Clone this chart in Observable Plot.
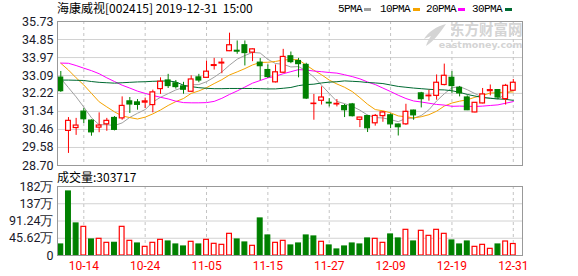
<!DOCTYPE html>
<html><head><meta charset="utf-8">
<script src="https://cdn.jsdelivr.net/npm/d3@7"></script>
<script src="https://cdn.jsdelivr.net/npm/@observablehq/plot@0.6"></script>
<style>
body{margin:0;background:#fff;}
#wrap{position:relative;width:578px;height:276px;overflow:hidden;font-family:"Noto Sans CJK SC","Noto Sans",sans-serif;color:#000;}
#wrap svg{position:absolute;left:0;}
.t{position:absolute;font-size:12px;line-height:14px;white-space:pre;}
.lg{position:absolute;font-family:"Liberation Mono",monospace;font-size:11px;letter-spacing:-0.6px;line-height:14px;white-space:pre;}
.sw{position:absolute;width:7px;height:3px;}
</style></head><body><div id="wrap"></div>
<script>
const dates = ["10-09","10-10","10-11","10-14","10-15","10-16","10-17","10-18","10-21","10-22","10-23","10-24","10-25","10-28","10-29","10-30","10-31","11-01","11-04","11-05","11-06","11-07","11-08","11-11","11-12","11-13","11-14","11-15","11-18","11-19","11-20","11-21","11-22","11-25","11-26","11-27","11-28","11-29","12-02","12-03","12-04","12-05","12-06","12-09","12-10","12-11","12-12","12-13","12-16","12-17","12-18","12-19","12-20","12-23","12-24","12-25","12-26","12-27","12-30","12-31"];
const open  = [32.99,30.39,30.53,31.33,30.89,30.55,30.71,31.02,31.00,31.83,31.78,31.77,31.65,32.43,32.85,32.71,32.56,32.30,33.00,32.98,33.56,33.68,34.28,34.30,34.57,34.21,33.72,33.36,32.76,33.23,34.03,33.80,33.61,31.70,31.86,31.76,31.68,31.60,31.68,30.93,31.11,30.76,31.11,31.15,30.70,30.71,31.38,32.22,32.08,32.10,32.63,32.98,32.49,32.02,31.29,31.73,32.33,32.38,31.94,32.35];
const high  = [33.29,31.04,31.00,31.48,30.93,31.27,31.00,31.09,32.05,32.02,31.92,31.99,32.38,32.98,33.15,32.85,32.76,33.08,33.15,33.80,33.93,33.92,35.16,34.78,34.78,34.39,33.92,33.61,33.61,34.37,34.24,33.93,33.69,32.17,32.54,31.97,31.92,31.68,31.73,31.05,31.15,31.19,31.33,31.22,30.72,31.69,31.40,32.27,32.38,33.12,33.65,33.28,32.56,32.10,31.77,32.46,32.63,32.41,32.66,32.90];
const low   = [32.27,29.29,30.17,30.75,30.13,30.30,30.37,30.39,30.91,31.24,31.40,31.48,31.27,32.17,32.46,32.43,32.18,32.27,32.74,32.95,33.36,33.18,34.26,34.13,33.56,33.77,32.84,32.95,32.73,33.20,33.67,32.98,31.92,30.91,31.65,31.56,31.56,31.04,31.07,30.55,30.31,30.62,30.81,30.50,30.14,30.66,30.91,31.51,31.84,31.89,32.59,32.22,32.05,31.38,31.27,31.71,32.10,31.92,31.65,32.33];
const close = [32.33,30.88,30.65,30.96,30.32,30.65,30.88,30.44,31.61,31.68,31.66,31.83,32.27,32.79,32.58,32.53,32.40,32.90,32.85,33.28,33.60,33.72,34.57,34.26,34.19,34.37,33.55,33.02,33.25,34.00,33.75,33.65,31.97,31.72,32.02,31.73,31.71,31.40,31.11,31.04,30.52,31.12,31.29,30.71,30.57,31.32,31.15,31.94,32.11,32.74,33.08,32.58,32.22,31.40,31.76,32.17,32.38,32.02,32.59,32.74];
const prevClose = 33.00; // close of the session before the first one shown
// volume, in 万 (10,000)
const volume = [29.1,169.3,84.7,75.8,42.3,44.1,33.5,33.5,75.8,38.8,31.7,22.9,33.5,41.4,37.0,29.1,23.8,36.2,29.1,41.4,30.9,28.2,57.3,42.3,34.4,25.6,97.9,52.9,33.5,38.8,26.5,31.7,52.9,50.3,36.2,26.5,15.9,23.8,31.7,29.1,45.0,44.1,33.5,55.6,45.0,67.9,37.0,65.3,52.0,67.9,57.3,39.7,29.1,37.0,22.9,28.2,17.6,29.1,37.0,30.37];
const latestVolume = 303717;
const ma5  = [32.95,32.50,32.05,31.55,31.03,30.69,30.69,30.65,30.78,31.05,31.25,31.43,31.80,32.03,32.21,32.39,32.51,32.64,32.65,32.79,33.01,33.27,33.60,33.89,34.07,34.22,34.19,33.88,33.68,33.64,33.51,33.53,33.32,33.02,32.62,32.22,31.83,31.72,31.59,31.40,31.16,31.04,31.02,30.94,30.84,31.00,31.01,31.14,31.42,31.85,32.20,32.49,32.55,32.40,32.21,32.03,31.99,31.95,32.18,32.38];
const ma10 = [33.69,33.36,32.98,32.63,32.22,31.81,31.56,31.32,31.12,31.04,30.97,31.06,31.22,31.41,31.63,31.82,31.97,32.22,32.34,32.50,32.70,32.89,33.12,33.27,33.43,33.61,33.73,33.74,33.78,33.85,33.87,33.86,33.60,33.35,33.13,32.87,32.68,32.52,32.31,32.01,31.69,31.43,31.37,31.27,31.12,31.08,31.02,31.08,31.18,31.35,31.60,31.75,31.84,31.91,32.03,32.12,32.24,32.25,32.29,32.29];
const ma20 = [33.70,33.69,33.58,33.45,33.33,33.18,32.98,32.80,32.62,32.48,32.33,32.22,32.12,32.03,31.95,31.84,31.77,31.76,31.76,31.77,31.83,31.98,32.17,32.34,32.53,32.72,32.85,32.98,33.06,33.18,33.28,33.38,33.36,33.31,33.28,33.24,33.21,33.13,33.04,32.93,32.78,32.65,32.48,32.31,32.13,31.97,31.85,31.80,31.74,31.68,31.65,31.59,31.60,31.59,31.58,31.60,31.63,31.66,31.74,31.82];
const ma30 = [32.87,32.87,32.86,32.85,32.80,32.76,32.74,32.72,32.74,32.76,32.78,32.79,32.81,32.82,32.83,32.78,32.62,32.55,32.50,32.47,32.45,32.45,32.46,32.46,32.46,32.46,32.45,32.44,32.44,32.47,32.51,32.60,32.65,32.67,32.73,32.77,32.79,32.83,32.81,32.79,32.75,32.73,32.70,32.63,32.56,32.52,32.48,32.45,32.42,32.40,32.39,32.35,32.27,32.17,32.09,32.02,31.98,31.95,31.93,31.88];
const priceTicks = [28.70,29.58,30.46,31.34,32.22,33.09,33.97,34.85,35.73];
const volTicks = [0,45.62,91.24,136.86,182.48];
const volTickLabels = ["0","45.62万","91.24万","137万","182万"];
const dateTickLabels = ["10-14","10-24","11-05","11-15","11-27","12-09","12-19","12-31"];
const maNames = ["5PMA","10PMA","20PMA","30PMA"];
const titleText = "海康威视[002415] 2019-12-31  15:00";

const RED = "#ff0000", GREEN = "#008000";
const maColors = ["#a0a0a0","#f5a300","#ff00ff","#006a32"];
const maSeries = [ma5, ma10, ma20, ma30];

const rows = dates.map((d, i) => ({
  i, d, o: open[i], h: high[i], l: low[i], c: close[i], v: volume[i],
  up: close[i] >= open[i],
  rise: close[i] >= (i ? close[i - 1] : prevClose)
}));
const tickIdx = dateTickLabels.map(l => dates.indexOf(l));
const volLabelMap = new Map(volTicks.map((v, k) => [v, volTickLabels[k]]));
const xDomain = [-0.43, 60.2];
const HW = 0.31;

const maMarks = maSeries.map((s, k) =>
  Plot.line(s.map((v, i) => ({i, v})), {x: "i", y: "v", stroke: maColors[k], strokeWidth: 1}));

const price = Plot.plot({
  width: 578, height: 170, marginTop: 21, marginBottom: 5, marginLeft: 57, marginRight: 56,
  x: {type: "linear", domain: xDomain, axis: null},
  y: {domain: [28.70, 35.73], axis: null},
  color: {type: "identity"},
  style: {background: "transparent", overflow: "visible"},
  marks: [
    Plot.ruleY(priceTicks, {stroke: "#d2d2d2"}),
    Plot.ruleX(tickIdx, {stroke: "#c4c4c4", strokeDasharray: "3,3"}),
    Plot.text(["东方财富网"], {frameAnchor: "top-right", dx: 0, dy: 3, fontSize: 14.5, fontWeight: "bold", fill: "#d4d4d4", textAnchor: "end", fontFamily: "Noto Sans CJK SC"}),
    Plot.text(["eastmoney.com"], {frameAnchor: "top-right", dx: 0, dy: 20, fontSize: 9.5, fontWeight: "bold", fill: "#d4d4d4", textAnchor: "end", fontFamily: "DejaVu Sans"}),
    Plot.axisY(priceTicks, {anchor: "left", label: null, tickSize: 0, tickPadding: 4, tickFormat: d => d.toFixed(2), fontSize: 12.5, fill: "#1a1a2a", fontFamily: "Roboto"}),
    ...maMarks,
    Plot.ruleX(rows, {x: "i", y1: "l", y2: "h", stroke: d => d.up ? RED : GREEN}),
    Plot.rect(rows, {x1: d => d.i - HW, x2: d => d.i + HW, y1: "o", y2: "c",
      fill: d => d.up ? "#ffffff" : GREEN, stroke: d => d.up ? RED : GREEN, strokeWidth: 1.2}),
    Plot.frame({stroke: "#999"})
  ]
});
price.style.top = "0px";

const vol = Plot.plot({
  width: 578, height: 106, marginTop: 16, marginBottom: 21, marginLeft: 57, marginRight: 56,
  x: {type: "linear", domain: xDomain, axis: null},
  y: {domain: [0, 182.48], axis: null},
  color: {type: "identity"},
  style: {background: "transparent", overflow: "visible"},
  marks: [
    Plot.ruleY(volTicks.slice(1, -1), {stroke: "#d2d2d2"}),
    Plot.ruleX(tickIdx, {stroke: "#c4c4c4", strokeDasharray: "3,3"}),
    Plot.rect(rows, {x1: d => d.i - HW, x2: d => d.i + HW, y1: 0, y2: "v",
      fill: d => d.rise ? "#ffffff" : GREEN, stroke: d => d.rise ? RED : GREEN, strokeWidth: 1.2}),
    Plot.axisY(volTicks, {anchor: "left", label: null, tickSize: 0, tickPadding: 4, tickFormat: d => volLabelMap.get(d), fontSize: 12.5, fill: "#1a1a2a", fontFamily: "Roboto"}),
    Plot.axisX(tickIdx, {anchor: "bottom", label: null, tickSize: 0, tickPadding: 6, tickFormat: d => dates[d], fontSize: 12, fill: RED, fontFamily: "Roboto"}),
    Plot.frame({stroke: "#999"})
  ]
});
vol.style.top = "170px";

const wrap = document.getElementById("wrap");
wrap.appendChild(price);
wrap.appendChild(vol);

// watermark logo swoosh (decoration)
const ns = "http://www.w3.org/2000/svg";
const logo = document.createElementNS(ns, "svg");
logo.setAttribute("width", "578"); logo.setAttribute("height", "276");
logo.style.top = "0px"; logo.style.pointerEvents = "none";
const p = document.createElementNS(ns, "path");
p.setAttribute("d", "M446 24 C437 26 428 32 424 39 L431 36 C429 39 427 42 426 46 C434 41 440 33 446 24 Z");
p.setAttribute("fill", "#d4d4d4");
logo.appendChild(p);
wrap.insertBefore(logo, price);

function addEl(cls, txt, left, top) {
  const el = document.createElement("div");
  el.className = cls;
  el.style.left = left + "px";
  el.style.top = top + "px";
  if (txt != null) el.textContent = txt;
  wrap.appendChild(el);
  return el;
}
addEl("t", titleText, 57, 1);
addEl("t", "成交量:" + latestVolume, 57, 170);
const legendTextLeft = [338, 380, 426, 472];
const legendSwatchLeft = [364, 413, 458, 505];
maNames.forEach((n, k) => {
  addEl("lg", n, legendTextLeft[k], 2);
  const sw = addEl("sw", null, legendSwatchLeft[k], 8);
  sw.style.background = maColors[k];
});
</script></body></html>
